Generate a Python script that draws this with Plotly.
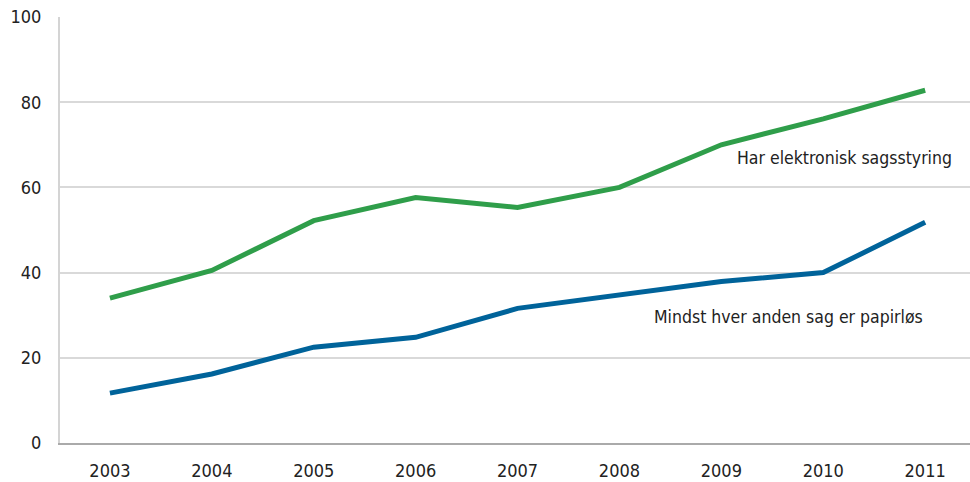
import plotly.graph_objects as go

years = [2003, 2004, 2005, 2006, 2007, 2008, 2009, 2010, 2011]
har_elektronisk = [34.0, 40.5, 52.2, 57.6, 55.3, 60.0, 70.0, 76.1, 82.8]
mindst_hver_anden = [11.7, 16.2, 22.5, 24.8, 31.6, 34.7, 37.9, 40.0, 51.8]
y_ticks = [0, 20, 40, 60, 80, 100]

label_green = "Har elektronisk sagsstyring"
label_blue = "Mindst hver anden sag er papirløs"

FONT = "DejaVu Sans Condensed, Liberation Sans Narrow, Roboto, sans-serif"

fig = go.Figure()
fig.add_trace(go.Scatter(x=years, y=har_elektronisk, mode="lines",
                         line=dict(color="#2f9e4a", width=5), name=label_green))
fig.add_trace(go.Scatter(x=years, y=mindst_hver_anden, mode="lines",
                         line=dict(color="#00639a", width=5), name=label_blue))

fig.add_annotation(x=2010.21, y=66.9, text=label_green, showarrow=False,
                   font=dict(family=FONT, size=17.5, color="#222"), xanchor="center")
fig.add_annotation(x=2009.66, y=29.6, text=label_blue, showarrow=False,
                   font=dict(family=FONT, size=17.5, color="#222"), xanchor="center")

fig.update_layout(
    width=970, height=482,
    margin=dict(l=60, r=0, t=17, b=39, autoexpand=False),
    plot_bgcolor="white", paper_bgcolor="white",
    showlegend=False,
    font=dict(family=FONT, size=18, color="#222"),
)
fig.update_xaxes(range=[2002.51, 2011.44], tickvals=years, ticktext=[str(y) for y in years],
                 showgrid=False, showline=True, linecolor="#aaaaaa", linewidth=2,
                 ticks="outside", ticklen=10, tickcolor="rgba(0,0,0,0)",
                 zeroline=False, fixedrange=True, automargin=False)
fig.update_yaxes(range=[0, 100], tickvals=y_ticks, showgrid=True, gridcolor="#d9d9d9",
                 gridwidth=1.5, showline=True, linecolor="#d4d4d4", linewidth=2,
                 ticks="outside", ticklen=13, tickcolor="rgba(0,0,0,0)",
                 zeroline=False, fixedrange=True, automargin=False)

fig.write_html("out.html", config={"displayModeBar": False},
               post_script="document.body.style.margin='0px';document.body.style.padding='0px';")
